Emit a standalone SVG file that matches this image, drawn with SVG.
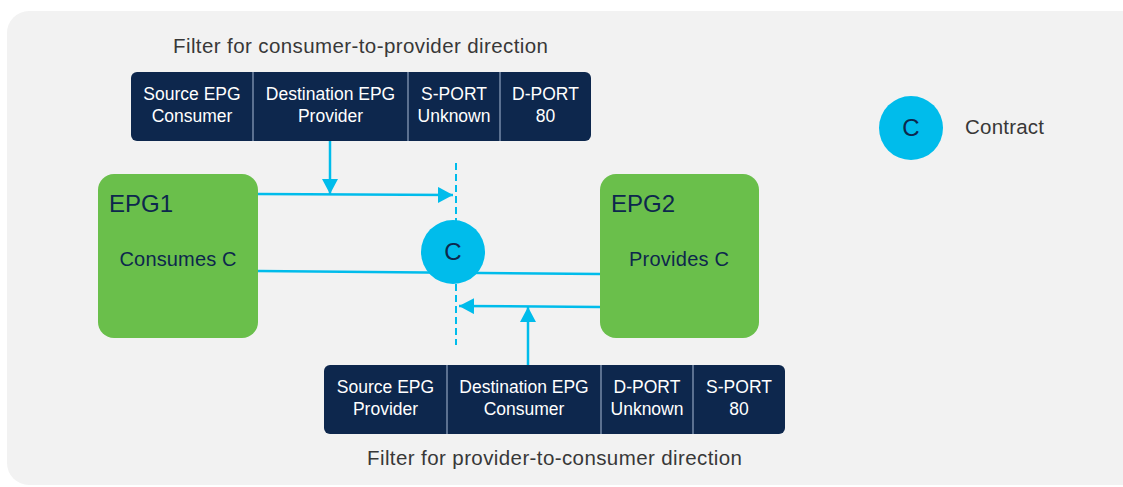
<svg xmlns="http://www.w3.org/2000/svg" width="1123" height="487" viewBox="0 0 1123 487">
<defs>
<style>
.bg{fill:#f2f2f2}
.tbl{fill:#0d274d}
.div{stroke:#8fa3bf;stroke-width:1.2}
.cell{font-family:"Liberation Sans",Arial,sans-serif;font-size:17.5px;fill:#ffffff;text-anchor:middle}
.title{font-family:"Liberation Sans",Arial,sans-serif;font-size:20.5px;fill:#383838}
.epg{fill:#6abf4b}
.epgname{font-family:"Liberation Sans",Arial,sans-serif;font-size:24px;fill:#0d274d}
.epgtxt{font-family:"Liberation Sans",Arial,sans-serif;font-size:20px;fill:#0d274d;text-anchor:middle}
.ctr{fill:#00bceb}
.ctrtxt{font-family:"Liberation Sans",Arial,sans-serif;font-size:24px;fill:#0d274d;text-anchor:middle}
.ln{stroke:#00bceb;stroke-width:2.5;fill:none}
.dash{stroke:#00bceb;stroke-width:2;stroke-dasharray:7 4;fill:none}
</style>
<marker id="ah" markerUnits="userSpaceOnUse" markerWidth="16" markerHeight="18" refX="15" refY="8" orient="auto">
<path d="M0,0 L15,8 L0,16 z" fill="#00bceb"/>
</marker>
</defs>
<rect class="bg" x="7" y="11" width="1140" height="474" rx="22"/>

<g id="title-top">
<text class="title" x="173" y="53" textLength="375" lengthAdjust="spacing">Filter for consumer-to-provider direction</text>
</g>
<g id="filter-c2p">
<rect class="tbl" x="131" y="72" width="460" height="69" rx="6"/>
<line class="div" x1="253" y1="72" x2="253" y2="141"/>
<line class="div" x1="408" y1="72" x2="408" y2="141"/>
<line class="div" x1="500" y1="72" x2="500" y2="141"/>
<text class="cell" x="192" y="100">Source EPG</text>
<text class="cell" x="192" y="122">Consumer</text>
<text class="cell" x="330.5" y="100">Destination EPG</text>
<text class="cell" x="330.5" y="122">Provider</text>
<text class="cell" x="454" y="100">S-PORT</text>
<text class="cell" x="454" y="122">Unknown</text>
<text class="cell" x="545.5" y="100">D-PORT</text>
<text class="cell" x="545.5" y="122">80</text>
</g>

<g id="filter-p2c">
<rect class="tbl" x="324" y="365" width="461" height="69" rx="6"/>
<line class="div" x1="447" y1="365" x2="447" y2="434"/>
<line class="div" x1="601" y1="365" x2="601" y2="434"/>
<line class="div" x1="693" y1="365" x2="693" y2="434"/>
<text class="cell" x="385.5" y="393">Source EPG</text>
<text class="cell" x="385.5" y="415">Provider</text>
<text class="cell" x="524" y="393">Destination EPG</text>
<text class="cell" x="524" y="415">Consumer</text>
<text class="cell" x="647" y="393">D-PORT</text>
<text class="cell" x="647" y="415">Unknown</text>
<text class="cell" x="739" y="393">S-PORT</text>
<text class="cell" x="739" y="415">80</text>
</g>
<g id="title-bottom">
<text class="title" x="367" y="465" textLength="375" lengthAdjust="spacing">Filter for provider-to-consumer direction</text>
</g>

<g id="connectors">
<line class="dash" x1="456" y1="163" x2="456" y2="345"/>
<line class="ln" x1="258" y1="271" x2="600" y2="274"/>
<line class="ln" x1="258" y1="194" x2="453" y2="195" marker-end="url(#ah)"/>
<line class="ln" x1="330" y1="141" x2="330" y2="194" marker-end="url(#ah)"/>
<line class="ln" x1="600" y1="307" x2="459" y2="306" marker-end="url(#ah)"/>
<line class="ln" x1="528" y1="365" x2="528" y2="307" marker-end="url(#ah)"/>
</g>

<g id="epg1">
<rect class="epg" x="98" y="174" width="160" height="164" rx="16"/>
<text class="epgname" x="109" y="212">EPG1</text>
<text class="epgtxt" x="178" y="266" textLength="117" lengthAdjust="spacing">Consumes C</text>
</g>

<g id="epg2">
<rect class="epg" x="600" y="174" width="159" height="164" rx="16"/>
<text class="epgname" x="611" y="212">EPG2</text>
<text class="epgtxt" x="679" y="266" textLength="100" lengthAdjust="spacing">Provides C</text>
</g>

<g id="contract">
<circle class="ctr" cx="453" cy="252" r="32"/>
<text class="ctrtxt" x="453" y="260">C</text>
</g>

<g id="legend">
<circle class="ctr" cx="911" cy="128" r="32"/>
<text class="ctrtxt" x="911" y="136">C</text>
<text class="title" x="965" y="134" textLength="79" lengthAdjust="spacing">Contract</text>
</g>
</svg>
